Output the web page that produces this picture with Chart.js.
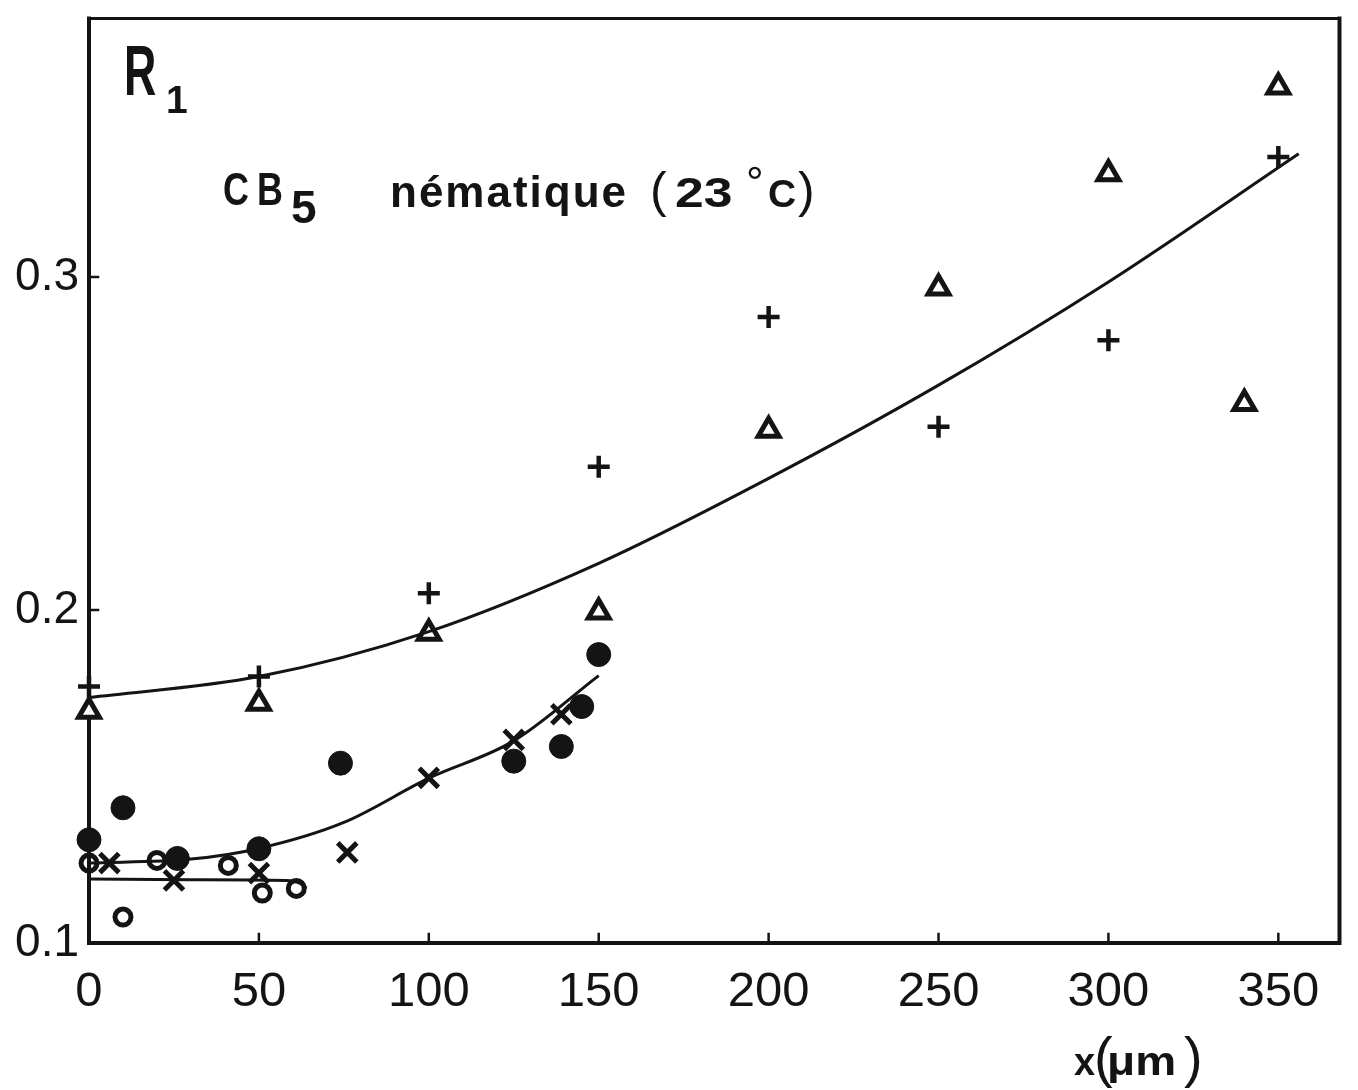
<!DOCTYPE html>
<html>
<head>
<meta charset="utf-8">
<title>R1 CB5 nématique</title>
<script src="https://cdn.jsdelivr.net/npm/chart.js@4.4.1/dist/chart.umd.min.js"></script>
<style>
  html, body { margin: 0; padding: 0; background: #fff; }
  #wrap { width: 1358px; height: 1090px; position: relative; }
</style>
</head>
<body>
<div id="wrap"><canvas id="chartR1"></canvas></div>
<script>
// values: x in µm, y = R1
var plusX = [0, 50, 100, 150, 200, 250, 300, 350];
var plusY = [0.177, 0.180, 0.205, 0.243, 0.288, 0.255, 0.281, 0.336];

var triX = [0, 50, 100, 150, 200, 250, 300, 340, 350];
var triY = [0.1696, 0.172, 0.193, 0.1994, 0.254, 0.2967, 0.331, 0.262, 0.357];

var dotX = [0, 10, 26, 50, 74, 125, 139, 145, 150];
var dotY = [0.131, 0.1406, 0.1254, 0.1283, 0.154, 0.1546, 0.159, 0.171, 0.1866];

var crossX = [6, 25, 50, 76, 100, 125, 139];
var crossY = [0.124, 0.1188, 0.121, 0.1272, 0.1496, 0.161, 0.1687];

var ringX = [0, 10, 20, 41, 51, 61];
var ringY = [0.124, 0.1078, 0.1248, 0.1233, 0.115, 0.1164];

// hand drawn fitted curves
var upperCurveX = [0, 50, 100, 150, 200, 250, 300, 356];
var upperCurveY = [0.1737, 0.1800, 0.1935, 0.2140, 0.2395, 0.2675, 0.2985, 0.3370];
var lowerCurveX = [0, 30, 50, 75, 100, 125, 150];
var lowerCurveY = [0.124, 0.1252, 0.1284, 0.1362, 0.1495, 0.1607, 0.1803];
var flatCurveX = [0, 30, 58, 62, 64];
var flatCurveY = [0.1192, 0.1190, 0.1188, 0.1180, 0.1165];

var xTicks = [0, 50, 100, 150, 200, 250, 300, 350];
var yTicks = [0.1, 0.2, 0.3];

var ink = '#141414';

function pts(xs, ys) {
  return xs.map(function (x, i) { return { x: x, y: ys[i] }; });
}

function markers(label, xs, ys, style, r, bw, fill) {
  return {
    label: label,
    data: pts(xs, ys),
    pointStyle: style,
    pointRadius: r,
    pointBorderWidth: bw,
    pointBorderColor: ink,
    pointBackgroundColor: fill,
    borderColor: ink,
    showLine: false,
    clip: false
  };
}

function curve(label, xs, ys) {
  return {
    label: label,
    data: pts(xs, ys),
    showLine: true,
    borderColor: ink,
    borderWidth: 3,
    pointRadius: 0,
    cubicInterpolationMode: 'monotone',
    clip: false
  };
}

function txt(ctx, s, x, y, font, sx, spacing) {
  ctx.save();
  ctx.font = font;
  ctx.letterSpacing = (spacing || 0) + 'px';
  ctx.translate(x, y);
  ctx.scale(sx || 1, 1);
  ctx.fillText(s, 0, 0);
  ctx.restore();
}

// frame, inner tick marks and the lettering of the figure
var figureDecor = {
  id: 'figureDecor',
  beforeDatasetsDraw: function (chart) {
    var ctx = chart.ctx, a = chart.chartArea;
    var xs = chart.scales.x, ys = chart.scales.y;
    ctx.save();
    ctx.strokeStyle = ink;
    ctx.lineCap = 'square';
    ctx.lineWidth = 4;
    ctx.beginPath();
    ctx.moveTo(a.left, a.top); ctx.lineTo(a.left, a.bottom);
    ctx.lineTo(a.right, a.bottom); ctx.lineTo(a.right, a.top);
    ctx.stroke();
    ctx.lineWidth = 3;
    ctx.beginPath();
    ctx.moveTo(a.left, a.top); ctx.lineTo(a.right, a.top);
    ctx.stroke();
    ctx.lineWidth = 2.5;
    ctx.beginPath();
    xTicks.slice(1).forEach(function (v) {
      var px = xs.getPixelForValue(v);
      ctx.moveTo(px, a.bottom); ctx.lineTo(px, a.bottom - 9);
    });
    yTicks.slice(1).forEach(function (v) {
      var py = ys.getPixelForValue(v);
      ctx.moveTo(a.left, py); ctx.lineTo(a.left + 9, py);
    });
    ctx.stroke();
    ctx.restore();
  },
  afterDraw: function (chart) {
    var ctx = chart.ctx;
    ctx.save();
    ctx.fillStyle = ink;
    ctx.textAlign = 'left';
    ctx.textBaseline = 'alphabetic';
    var fam = '"Liberation Sans", Arial, sans-serif';
    txt(ctx, 'R', 124, 95, 'bold 70px ' + fam, 0.64);
    txt(ctx, '1', 166, 113, 'bold 39px ' + fam);
    txt(ctx, 'C', 223, 205, 'bold 46px ' + fam, 0.78);
    txt(ctx, 'B', 257, 205, 'bold 46px ' + fam, 0.78);
    txt(ctx, '5', 291, 223, 'bold 46px ' + fam);
    txt(ctx, 'nématique', 390, 207, 'bold 44px ' + fam, 1, 2);
    txt(ctx, '(', 650, 207, '50px ' + fam);
    txt(ctx, '23', 675, 207, 'bold 43px ' + fam, 1.2);
    txt(ctx, '°', 746, 198, '44px ' + fam);
    txt(ctx, 'C', 768, 207, 'bold 39px ' + fam);
    txt(ctx, ')', 798, 207, '50px ' + fam);
    txt(ctx, 'x', 1074, 1075, 'bold 38px ' + fam);
    txt(ctx, '(', 1094, 1076, '56px ' + fam);
    txt(ctx, 'μm', 1107, 1075, 'bold 40px ' + fam, 1.15);
    txt(ctx, ')', 1184, 1076, '56px ' + fam);
    ctx.restore();
  }
};

var ctx = document.getElementById('chartR1');
var chartR1 = new Chart(ctx, {
  type: 'scatter',
  data: {
    datasets: [
      curve('upper fit', upperCurveX, upperCurveY),
      curve('lower fit', lowerCurveX, lowerCurveY),
      curve('flat fit', flatCurveX, flatCurveY),
      markers('+', plusX, plusY, 'cross', 11, 4.5, ink),
      markers('triangle', triX, triY, 'triangle', 12, 5, '#fff'),
      markers('filled circle', dotX, dotY, 'circle', 12, 1, ink),
      markers('x', crossX, crossY, 'crossRot', 13.5, 5, ink),
      markers('open circle', ringX, ringY, 'circle', 8, 5, 'rgba(0,0,0,0)')
    ]
  },
  options: {
    responsive: true,
    maintainAspectRatio: false,
    animation: false,
    layout: { padding: { top: 10, right: 16, left: 0, bottom: 0 } },
    plugins: { legend: { display: false }, tooltip: { enabled: false } },
    scales: {
      x: {
        type: 'linear',
        min: 0,
        max: 368,
        grid: { display: false, drawTicks: false },
        border: { display: false },
        afterBuildTicks: function (scale) {
          scale.ticks = xTicks.map(function (v) { return { value: v }; });
        },
        afterFit: function (scale) {
          scale.height = 147;
          scale.paddingLeft = 0;
          scale.paddingRight = 0;
        },
        ticks: {
          color: ink,
          padding: 20,
          maxRotation: 0,
          font: { family: 'Liberation Sans', size: 49 },
          callback: function (v) { return String(v); }
        }
      },
      y: {
        type: 'linear',
        min: 0.1,
        max: 0.3776,
        grid: { display: false, drawTicks: false },
        border: { display: false },
        afterBuildTicks: function (scale) {
          scale.ticks = yTicks.map(function (v) { return { value: v }; });
        },
        afterFit: function (scale) {
          scale.width = 89;
          scale.paddingTop = 0;
          scale.paddingBottom = 0;
        },
        ticks: {
          color: ink,
          padding: 10,
          font: { family: 'Liberation Sans', size: 46 },
          callback: function (v) { return v.toFixed(1); }
        }
      }
    }
  },
  plugins: [figureDecor]
});
</script>
</body>
</html>
